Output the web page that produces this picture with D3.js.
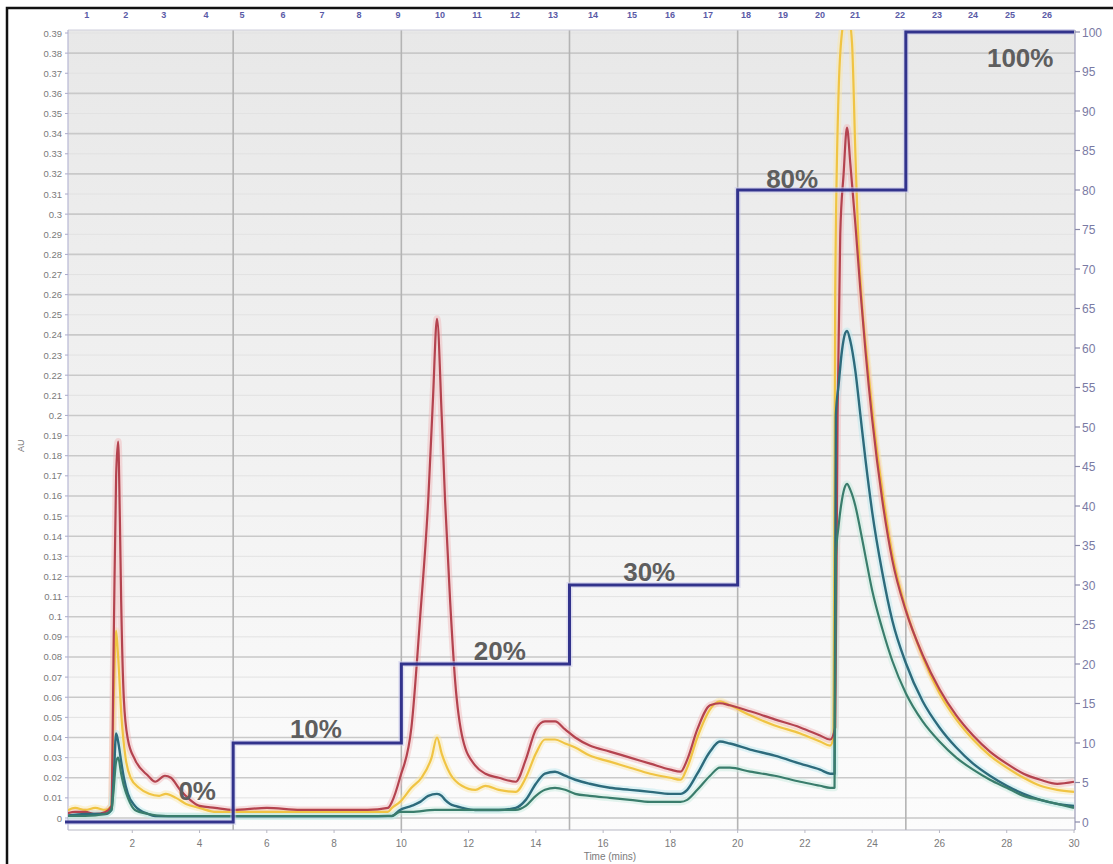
<!DOCTYPE html>
<html>
<head>
<meta charset="utf-8">
<script src="https://cdn.jsdelivr.net/npm/d3@7"></script>
<style>
  html, body { margin: 0; padding: 0; background: #ffffff; }
  svg { display: block; font-family: "Liberation Sans", Arial, sans-serif; }
</style>
</head>
<body>
<svg id="chart" width="1113" height="864"></svg>
<script>
// ---------------- DATA ----------------
const redSeries = [[0,0.002],[0.3,0.003],[0.6,0.003],[0.9,0.002],[1.2,0.003],[1.38,0.006],[1.45,0.09],[1.52,0.17],[1.58,0.187],[1.63,0.15],[1.67,0.108],[1.75,0.059],[1.87,0.039],[2.08,0.029],[2.47,0.021],[2.68,0.018],[2.97,0.021],[3.15,0.02],[3.42,0.014],[3.72,0.009],[4.0,0.006],[4.46,0.005],[5,0.004],[6,0.005],[7,0.004],[8,0.004],[9,0.004],[9.6,0.005],[9.72,0.008],[9.96,0.02],[10.3,0.045],[10.56,0.1],[10.8,0.158],[10.94,0.208],[11.06,0.248],[11.2,0.2],[11.3,0.158],[11.45,0.108],[11.6,0.068],[11.83,0.039],[12.2,0.026],[12.5,0.022],[12.9,0.02],[13.4,0.018],[13.7,0.029],[14.0,0.044],[14.27,0.048],[14.57,0.048],[14.87,0.044],[15.17,0.04],[15.6,0.036],[16.2,0.033],[16.8,0.03],[17.4,0.027],[18.0,0.024],[18.3,0.023],[18.5,0.029],[18.8,0.044],[19.18,0.056],[19.47,0.057],[19.77,0.056],[20.37,0.053],[21.1,0.049],[21.86,0.045],[22.45,0.041],[22.75,0.039],[22.9,0.045],[22.97,0.2],[23.05,0.29],[23.15,0.32],[23.25,0.343],[23.35,0.325],[23.5,0.295],[23.65,0.262],[23.8,0.232],[24.0,0.198],[24.3,0.158],[24.6,0.128],[25.0,0.103],[25.5,0.081],[26,0.064],[26.5,0.051],[27,0.041],[27.5,0.033],[28,0.027],[28.5,0.022],[29,0.019],[29.5,0.017],[30,0.018]];

const yellowSeries = [[0,0.003],[0.3,0.005],[0.6,0.004],[0.9,0.005],[1.2,0.004],[1.38,0.006],[1.45,0.06],[1.52,0.093],[1.58,0.08],[1.68,0.05],[1.8,0.03],[1.95,0.02],[2.2,0.015],[2.5,0.012],[2.8,0.011],[3.0,0.012],[3.3,0.01],[3.6,0.007],[4.0,0.005],[4.5,0.003],[5,0.003],[6,0.003],[7,0.003],[8,0.003],[9,0.003],[9.6,0.003],[9.72,0.005],[9.96,0.008],[10.3,0.015],[10.6,0.02],[10.9,0.03],[11.06,0.04],[11.2,0.032],[11.45,0.022],[11.8,0.016],[12.2,0.014],[12.5,0.016],[12.9,0.014],[13.4,0.013],[13.7,0.02],[14.0,0.032],[14.27,0.039],[14.57,0.039],[14.87,0.037],[15.17,0.035],[15.6,0.031],[16.2,0.028],[16.8,0.025],[17.4,0.022],[18.0,0.02],[18.3,0.019],[18.5,0.025],[18.8,0.04],[19.18,0.054],[19.47,0.058],[19.77,0.056],[20.37,0.051],[21.1,0.046],[21.86,0.042],[22.45,0.038],[22.75,0.036],[22.85,0.04],[22.9,0.26],[23.0,0.36],[23.1,0.39],[23.2,0.398],[23.3,0.398],[23.4,0.385],[23.5,0.33],[23.58,0.29],[23.7,0.255],[23.85,0.228],[24.0,0.203],[24.3,0.163],[24.6,0.131],[25.0,0.104],[25.5,0.08],[26,0.062],[26.5,0.049],[27,0.039],[27.5,0.031],[28,0.025],[28.5,0.02],[29,0.016],[29.5,0.014],[30,0.013]];

const tealSeries = [[0,0.001],[0.6,0.002],[1.2,0.002],[1.38,0.004],[1.45,0.02],[1.52,0.042],[1.58,0.038],[1.67,0.028],[1.75,0.02],[1.87,0.012],[2.08,0.006],[2.47,0.002],[2.68,0.001],[3.5,0.0008],[5,0.0008],[7,0.0008],[9,0.0008],[9.6,0.001],[9.72,0.001],[9.96,0.004],[10.3,0.006],[10.56,0.008],[10.8,0.011],[11.06,0.012],[11.2,0.011],[11.3,0.009],[11.45,0.007],[11.6,0.006],[11.83,0.005],[12.2,0.004],[12.9,0.004],[13.4,0.005],[13.7,0.009],[14.0,0.017],[14.27,0.022],[14.57,0.023],[14.87,0.021],[15.17,0.019],[15.6,0.017],[16.2,0.015],[16.8,0.014],[17.4,0.013],[18.0,0.012],[18.3,0.012],[18.5,0.014],[18.8,0.022],[19.18,0.033],[19.47,0.038],[19.77,0.037],[20.37,0.034],[21.1,0.031],[21.86,0.027],[22.45,0.024],[22.75,0.022],[22.88,0.022],[22.92,0.2],[23.0,0.215],[23.1,0.232],[23.2,0.241],[23.25,0.242],[23.35,0.237],[23.5,0.222],[23.65,0.2],[23.8,0.178],[24.0,0.152],[24.3,0.122],[24.6,0.098],[25.0,0.077],[25.5,0.058],[26,0.045],[26.5,0.035],[27,0.027],[27.5,0.021],[28,0.016],[28.5,0.012],[29,0.009],[29.5,0.007],[30,0.006]];

const greenSeries = [[0,0.001],[0.6,0.001],[1.2,0.002],[1.38,0.004],[1.45,0.015],[1.52,0.028],[1.58,0.03],[1.67,0.022],[1.75,0.016],[1.87,0.01],[2.08,0.004],[2.47,0.002],[3.0,0.001],[5,0.001],[7,0.001],[9,0.001],[9.72,0.001],[9.96,0.003],[10.3,0.003],[11.0,0.004],[12.0,0.004],[12.9,0.004],[13.4,0.004],[13.7,0.006],[14.0,0.011],[14.27,0.014],[14.57,0.015],[14.87,0.014],[15.17,0.012],[15.6,0.011],[16.2,0.01],[16.8,0.009],[17.4,0.008],[18.0,0.008],[18.3,0.008],[18.5,0.009],[18.8,0.014],[19.18,0.021],[19.47,0.025],[19.77,0.025],[20.37,0.023],[21.1,0.021],[21.86,0.018],[22.45,0.016],[22.75,0.015],[22.88,0.015],[22.92,0.13],[23.0,0.145],[23.1,0.158],[23.2,0.165],[23.25,0.166],[23.35,0.163],[23.5,0.155],[23.65,0.143],[23.8,0.13],[24.0,0.113],[24.3,0.094],[24.6,0.078],[25.0,0.062],[25.5,0.048],[26,0.038],[26.5,0.03],[27,0.024],[27.5,0.019],[28,0.015],[28.5,0.011],[29,0.009],[29.5,0.007],[30,0.005]];

// gradient program (% B) : step times and levels
const gradientTimes  = [0, 5, 10, 15, 20, 25, 30];
const gradientLevels = [0, 10, 20, 30, 80, 100, 100];
const gradientLabels = ["0%", "10%", "20%", "30%", "80%", "100%"];
const gradientLabelTimes = [3.93, 7.46, 12.93, 17.37, 21.62, 28.4];
const gradientLabelLevels = [0, 10, 20, 30, 80, 100];

// fraction numbers along the top
const fractionLabels = ["1","2","3","4","5","6","7","8","9","10","11","12","13","14","15","16","17","18","19","20","21","22","23","24","25","26"];
const fractionTimes = [0.65,1.81,2.94,4.19,5.26,6.48,7.64,8.74,9.9,11.15,12.25,13.38,14.51,15.7,16.86,17.99,19.12,20.25,21.35,22.45,23.49,24.83,25.93,27.0,28.1,29.2];

// axis ticks
const timeTicks = [2,4,6,8,10,12,14,16,18,20,22,24,26,28,30];
const auTicks = d3.range(0, 40).map(i => i / 100);
const pctTicks = [0,5,10,15,20,25,30,35,40,45,50,55,60,65,70,75,80,85,90,95,100];
const majorTimeLines = [5, 10, 15, 20, 25];

// ---------------- LAYOUT ----------------
const svg = d3.select("#chart");
const plot = { left: 68, right: 1075, top: 30, bottom: 830 };

const x = d3.scaleLinear().domain([0, 30]).range([65, 1074]);
const y = d3.scaleLinear().domain([0, 0.39]).range([818, 33]);
const yR = d3.scaleLinear().domain([0, 100]).range([822, 32]);

const defs = svg.append("defs");
const grad = defs.append("linearGradient").attr("id", "bg").attr("x1", 0).attr("y1", 0).attr("x2", 0).attr("y2", 1);
grad.append("stop").attr("offset", "0%").attr("stop-color", "#e8e8e8");
grad.append("stop").attr("offset", "55%").attr("stop-color", "#f2f2f2");
grad.append("stop").attr("offset", "100%").attr("stop-color", "#fcfcfc");
defs.append("clipPath").attr("id", "clip").append("rect")
  .attr("x", plot.left).attr("y", plot.top).attr("width", plot.right - plot.left).attr("height", plot.bottom - plot.top);

// frame
svg.append("path").attr("d", "M7,864 L7,8 L1113,8").attr("fill", "none").attr("stroke", "#111").attr("stroke-width", 2.5);

// plot background
svg.append("rect").attr("x", plot.left).attr("y", plot.top).attr("width", plot.right - plot.left).attr("height", plot.bottom - plot.top).attr("fill", "url(#bg)");

// horizontal grid
const gGrid = svg.append("g");
gGrid.selectAll("line.h").data(auTicks).join("line")
  .attr("x1", plot.left).attr("x2", plot.right)
  .attr("y1", d => y(d)).attr("y2", d => y(d))
  .attr("stroke", (d, i) => i % 2 === 0 ? "#c9c9c9" : "#e2e2e2")
  .attr("stroke-width", (d, i) => i % 2 === 0 ? 1.6 : 1);
// vertical grid every 5 min
gGrid.selectAll("line.v").data(majorTimeLines).join("line")
  .attr("x1", d => x(d)).attr("x2", d => x(d))
  .attr("y1", plot.top).attr("y2", plot.bottom)
  .attr("stroke", "#b4b4b4").attr("stroke-width", 1.6);

// axes lines
svg.append("line").attr("x1", plot.left).attr("x2", plot.right).attr("y1", plot.top).attr("y2", plot.top).attr("stroke", "#cfcfdc").attr("stroke-width", 1);
svg.append("line").attr("x1", plot.left).attr("x2", plot.right).attr("y1", plot.bottom).attr("y2", plot.bottom).attr("stroke", "#b8b8c4").attr("stroke-width", 1.2);
svg.append("line").attr("x1", plot.left).attr("x2", plot.left).attr("y1", plot.top).attr("y2", plot.bottom).attr("stroke", "#b8b8d4").attr("stroke-width", 1.2);
svg.append("line").attr("x1", plot.right).attr("x2", plot.right).attr("y1", plot.top).attr("y2", plot.bottom).attr("stroke", "#9c9cb8").attr("stroke-width", 1.2);

// left axis labels
const gL = svg.append("g");
gL.selectAll("line").data(auTicks).join("line")
  .attr("x1", plot.left - 3).attr("x2", plot.left).attr("y1", d => y(d)).attr("y2", d => y(d))
  .attr("stroke", "#aaaacc");
gL.selectAll("text").data(auTicks).join("text")
  .attr("x", plot.left - 6).attr("y", d => y(d) + 3.5)
  .attr("text-anchor", "end").attr("font-size", 9.5).attr("fill", "#7a7a7a")
  .text(d => String(+d.toFixed(2)));
svg.append("text").attr("transform", "translate(24," + y(0.185) + ") rotate(-90)")
  .attr("text-anchor", "middle").attr("font-size", 9).attr("fill", "#777").text("AU");

// right axis
const gR = svg.append("g");
gR.selectAll("line").data(pctTicks).join("line")
  .attr("x1", plot.right).attr("x2", plot.right + 5).attr("y1", d => yR(d)).attr("y2", d => yR(d))
  .attr("stroke", "#8a8aaa").attr("stroke-width", 1.2);
gR.selectAll("text").data(pctTicks).join("text")
  .attr("x", plot.right + 7).attr("y", d => yR(d) + 4.5)
  .attr("font-size", 12).attr("fill", "#7a7aa4")
  .text(d => d);

// bottom axis
const gB = svg.append("g");
gB.selectAll("line").data(timeTicks).join("line")
  .attr("x1", d => x(d)).attr("x2", d => x(d)).attr("y1", plot.bottom).attr("y2", plot.bottom + 3)
  .attr("stroke", "#b8b8c4");
gB.selectAll("text").data(timeTicks).join("text")
  .attr("x", d => x(d)).attr("y", 847)
  .attr("text-anchor", "middle").attr("font-size", 10).attr("fill", "#7a7a7a")
  .text(d => d);
svg.append("text").attr("x", x(16.2)).attr("y", 860).attr("text-anchor", "middle")
  .attr("font-size", 10).attr("fill", "#7a7a7a").text("Time (mins)");

// top fraction labels
svg.append("g").selectAll("text").data(fractionTimes).join("text")
  .attr("x", d => x(d)).attr("y", 18)
  .attr("text-anchor", "middle").attr("font-size", 9).attr("font-weight", "bold").attr("fill", "#5a5aa6")
  .text((d, i) => fractionLabels[i]);

// traces
const line = d3.line().x(d => x(d[0])).y(d => y(d[1])).curve(d3.curveMonotoneX);
const gLines = svg.append("g").attr("clip-path", "url(#clip)");
const traces = [
  { data: yellowSeries, color: "#f0c443", halo: "#fbe7a6", w: 2.2 },
  { data: redSeries,    color: "#b4434f", halo: "#f0b6b8", w: 2.2 },
  { data: tealSeries,   color: "#2d6b7c", halo: "#b9e6ee", w: 2.4 },
  { data: greenSeries,  color: "#3a7d6c", halo: "#c4e8dc", w: 2.2 }
];
traces.forEach(t => {
  gLines.append("path").attr("d", line(t.data)).attr("fill", "none")
    .attr("stroke", t.halo).attr("stroke-width", 7).attr("stroke-opacity", 0.45).attr("stroke-linejoin", "round");
});
traces.forEach(t => {
  gLines.append("path").attr("d", line(t.data)).attr("fill", "none")
    .attr("stroke", t.color).attr("stroke-width", t.w).attr("stroke-linejoin", "round");
});

// gradient step line
const gradPts = gradientTimes.map((t, i) => [t, gradientLevels[i]]);
const stepLine = d3.line().x(d => x(d[0])).y(d => yR(d[1])).curve(d3.curveStepAfter);
svg.append("path").attr("d", stepLine(gradPts)).attr("fill", "none")
  .attr("stroke", "#c8c8ec").attr("stroke-width", 6).attr("stroke-opacity", 0.5);
svg.append("path").attr("d", stepLine(gradPts)).attr("fill", "none")
  .attr("stroke", "#32338c").attr("stroke-width", 3);

// gradient labels
const labelDy = [-22, -5, -4, -4, -2, 35];
svg.append("g").selectAll("text").data(gradientLabels).join("text")
  .attr("x", (d, i) => x(gradientLabelTimes[i]))
  .attr("y", (d, i) => yR(gradientLabelLevels[i]) + labelDy[i])
  .attr("text-anchor", "middle").attr("font-size", 26).attr("font-weight", "bold")
  .attr("fill", "#5e5e5e")
  .text(d => d);
</script>
</body>
</html>
